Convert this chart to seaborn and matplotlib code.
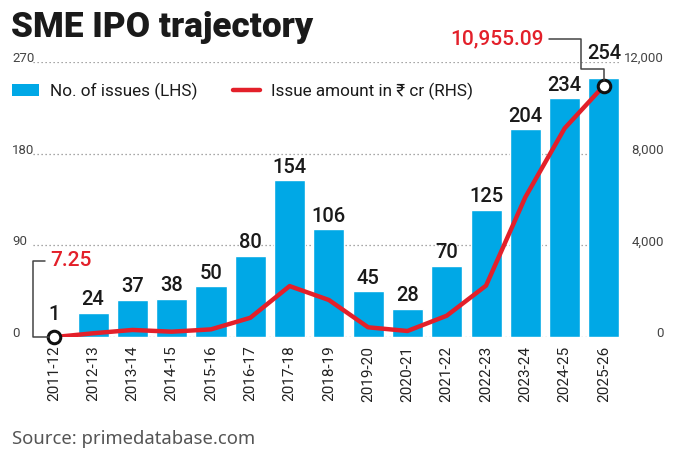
import numpy as np
import pandas as pd
import matplotlib
matplotlib.use("Agg")
import matplotlib.pyplot as plt
from matplotlib.patches import Patch
from matplotlib.lines import Line2D
from matplotlib.transforms import IdentityTransform
import seaborn as sns

# ---------------- data ----------------
years = ['2011-12', '2012-13', '2013-14', '2014-15', '2015-16', '2016-17',
         '2017-18', '2018-19', '2019-20', '2020-21', '2021-22', '2022-23',
         '2023-24', '2024-25', '2025-26']
issues = [1, 24, 37, 38, 50, 80, 154, 106, 45, 28, 70, 125, 204, 234, 254]
amount = [7.25, 175, 320, 245, 345, 850, 2230, 1625, 435, 275, 940, 2250,
          6100, 9100, 10955.09]
left_ticks = [0, 90, 180, 270]
right_ticks = [0, 4000, 8000, 12000]
right_tick_labels = ['0', '4,000', '8,000', '12,000']
title = 'SME IPO trajectory'
legend_labels = ['No. of issues (LHS)', 'Issue amount in ₹ cr (RHS)']
source = 'Source: primedatabase.com'

BLUE = '#00a8e6'
RED = '#e3202a'
GRID = '#8a8a8a'

sns.set_theme(style='white')
COND = 'Roboto'
plt.rcParams['font.family'] = [COND, 'DejaVu Sans']

W, H = 680, 454
fig = plt.figure(figsize=(W / 100, H / 100), dpi=100)
fig.patch.set_facecolor('white')
ax = fig.add_axes([33 / W, 1 - 337.3 / H, (621 - 33) / W, (337.3 - 61.7) / H])
ax2 = ax.twinx()

df = pd.DataFrame({'year': years, 'issues': issues, 'amount': amount})
sns.barplot(data=df, x='year', y='issues', color=BLUE, width=0.79,
            saturation=1, ax=ax, zorder=2)
xpos = np.arange(len(years))
sns.lineplot(x=xpos, y=df['amount'].values, ax=ax2, color=RED, lw=3.2,
             sort=False, zorder=3)
ax2.plot([xpos[0], xpos[-1]], [amount[0], amount[-1]], ls='none', marker='o',
         ms=9, mfc='white', mec='#111111', mew=2.2, zorder=5, clip_on=False)

ax.set_xlim(-0.53, len(years) - 1 + 0.435)
ax.set_ylim(0, 270)
ax2.set_ylim(0, 12000)
ax.set_xlabel('')
ax.set_ylabel('')
ax2.set_ylabel('')

for a in (ax, ax2):
    for s in a.spines.values():
        s.set_visible(False)
    a.set_facecolor('none')
ax.set_zorder(1)
ax2.set_zorder(2)

# gridlines
for t in left_ticks:
    ax.axhline(t, color=GRID, lw=0.9, ls=(0, (1, 2.2)), zorder=0)

# ticks
ax.set_xticks(xpos)
ax.set_xticklabels(years, rotation=90, fontsize=11, color='#222222')
ax.tick_params(axis='x', length=0, pad=6)
ax.set_yticks(left_ticks)
ax.set_yticklabels([str(t) for t in left_ticks], fontsize=9.5, color='#444444')
ax.tick_params(axis='y', length=0, pad=15)
for lab in ax.get_yticklabels():
    lab.set_ha('left')
    lab.set_va('baseline')
ax2.set_yticks(right_ticks)
ax2.set_yticklabels(right_tick_labels, fontsize=9.5, color='#444444')
ax2.tick_params(axis='y', length=0, pad=31)
for lab in ax2.get_yticklabels():
    lab.set_ha('right')
    lab.set_va('baseline')

# value labels
for i, v in enumerate(issues):
    off = 2.5
    if i == 0:
        off = 8.5
    if i == len(issues) - 1:
        off = 10.5
    ax.annotate(str(v), (xpos[i], v), xytext=(0, off), textcoords='offset points',
                ha='center', va='bottom', fontsize=14.5, fontweight='medium',
                color='#1a1a1a', zorder=6)

# title, legend, source
fig.text(11 / W, 1 - 37 / H, title, fontsize=25.3, fontweight='heavy',
         color='#1a1a1a', ha='left', va='baseline')
handles = [Patch(facecolor=BLUE, edgecolor='none'),
           Line2D([], [], color=RED, lw=3.2)]
fig.legend(handles, legend_labels, loc='center left',
           bbox_to_anchor=(12 / W, 1 - 91 / H), ncol=2, frameon=False,
           fontsize=12.3, handlelength=1.6, handletextpad=0.6,
           columnspacing=2.1, borderpad=0, borderaxespad=0,
           labelcolor='#1a1a1a')
fig.text(12 / W, 1 - 444 / H, source, fontsize=13.3, color='#555555',
         family=['Noto Sans', 'DejaVu Sans'], ha='left', va='baseline')

# annotations (leaders drawn in display pixels relative to data points)
fig.canvas.draw()
x1, y1 = ax2.transData.transform((xpos[-1], amount[-1]))
lead = Line2D([x1, x1, x1 - 23, x1 - 23, x1 - 55],
              [y1 + 6, y1 + 17, y1 + 17, y1 + 47, y1 + 47],
              transform=IdentityTransform(), color='#444444', lw=1.1, zorder=4)
fig.add_artist(lead)
fig.text((x1 - 60) / W, (y1 + 47) / H, f'{amount[-1]:,.2f}', color=RED,
         fontsize=15, fontweight='medium', ha='right', va='center')

x0, y0 = ax2.transData.transform((xpos[0], amount[0]))
lead0 = Line2D([x0 - 5, x0 - 21, x0 - 21, x0 - 9],
               [y0, y0, y0 + 76, y0 + 76],
               transform=IdentityTransform(), color='#444444', lw=1.1, zorder=4)
fig.add_artist(lead0)
fig.text((x0 - 4) / W, (y0 + 77) / H, f'{amount[0]:g}', color=RED,
         fontsize=15, fontweight='medium', ha='left', va='center')

fig.savefig('out.png', dpi=100, facecolor='white')
